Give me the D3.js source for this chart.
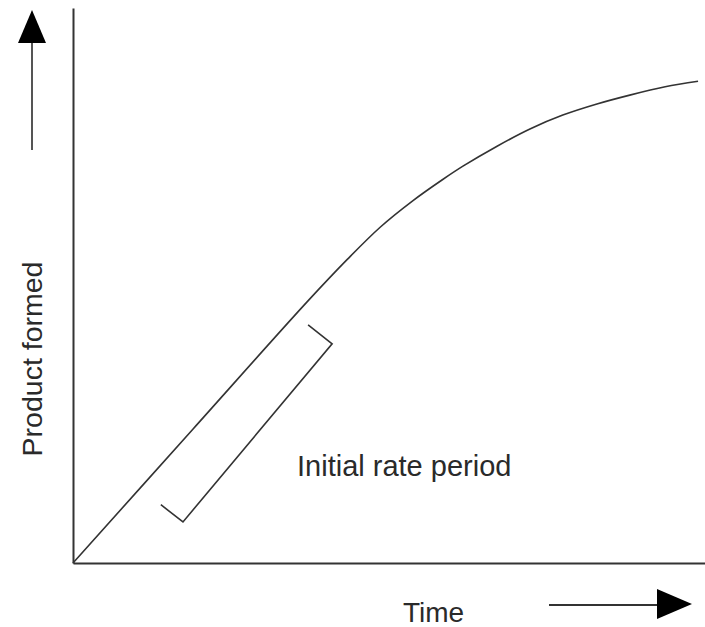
<!DOCTYPE html>
<html>
<head>
    <meta charset="utf-8">
    <title>Initial rate period</title>
    <script src="https://d3js.org/d3.v7.min.js"></script>
    <style>
        body { margin: 0; background: #fff; }
        text { font-family: "Liberation Sans", Arial, sans-serif; fill: #2a2a2a; }
    </style>
</head>
<body>
    <div id="chart"></div>
    <script>

        // curve: product formed over time (arbitrary units)
        var times    = [0, 1.9, 3.70, 4.34, 4.86, 5.38, 5.85, 6.17, 6.71, 7.23, 7.75, 8.29, 8.81, 9.37, 9.89];
        var products = [0, 2.415, 4.70, 5.47, 6.05, 6.53, 6.91, 7.15, 7.51, 7.82, 8.07, 8.27, 8.43, 8.58, 8.68];

        // bracket marking the initial rate period
        var bracketT = [1.39, 1.74, 4.10, 3.72];
        var bracketP = [1.05, 0.74, 3.95, 4.29];

        var labels = { x: "Time", y: "Product formed", note: "Initial rate period" };

        var width = 705, height = 627;
        var margin = { top: 8, right: 0, bottom: 64, left: 73 };

        var svg = d3.select("#chart")
            .append("svg")
            .attr("width", width)
            .attr("height", height);

        var x = d3.scaleLinear().domain([0, 10]).range([margin.left, width - margin.right]);
        var y = d3.scaleLinear().domain([0, 10]).range([height - margin.bottom, margin.top]);

        // axes without ticks
        svg.append("g")
            .attr("transform", "translate(0," + (height - margin.bottom) + ")")
            .call(d3.axisBottom(x).tickValues([]).tickSizeOuter(0))
            .select(".domain")
            .attr("stroke", "#333")
            .attr("stroke-width", 2);

        svg.append("g")
            .attr("transform", "translate(" + margin.left + ",0)")
            .call(d3.axisLeft(y).tickValues([]).tickSizeOuter(0))
            .select(".domain")
            .attr("stroke", "#333")
            .attr("stroke-width", 2);

        var pts = times.map(function(t, i) { return [t, products[i]]; });

        var line = d3.line()
            .x(function(d) { return x(d[0]); })
            .y(function(d) { return y(d[1]); })
            .curve(d3.curveCatmullRom.alpha(0.5));

        svg.append("path")
            .datum(pts)
            .attr("d", line)
            .attr("fill", "none")
            .attr("stroke", "#333")
            .attr("stroke-width", 1.6);

        var bracket = bracketT.map(function(t, i) { return [t, bracketP[i]]; });

        svg.append("path")
            .datum(bracket)
            .attr("d", d3.line()
                .x(function(d) { return x(d[0]); })
                .y(function(d) { return y(d[1]); }))
            .attr("fill", "none")
            .attr("stroke", "#333")
            .attr("stroke-width", 1.6);

        // direction arrows
        svg.append("line")
            .attr("x1", 32).attr("y1", 150)
            .attr("x2", 32).attr("y2", 40)
            .attr("stroke", "#555")
            .attr("stroke-width", 2);
        svg.append("path")
            .attr("d", "M32,10 L46,43 L18,43 Z")
            .attr("fill", "#000");

        svg.append("line")
            .attr("x1", 549).attr("y1", 605)
            .attr("x2", 660).attr("y2", 605)
            .attr("stroke", "#333")
            .attr("stroke-width", 2);
        svg.append("path")
            .attr("d", "M692,604 L657,589 L657,619 Z")
            .attr("fill", "#000");

        // labels
        svg.append("text")
            .attr("x", 403)
            .attr("y", 622)
            .style("font-size", "28px")
            .text(labels.x);

        svg.append("text")
            .attr("transform", "translate(42,359) rotate(-90)")
            .attr("text-anchor", "middle")
            .style("font-size", "28.5px")
            .text(labels.y);

        svg.append("text")
            .attr("x", 297)
            .attr("y", 476)
            .style("font-size", "29px")
            .text(labels.note);

    </script>
</body>
</html>
